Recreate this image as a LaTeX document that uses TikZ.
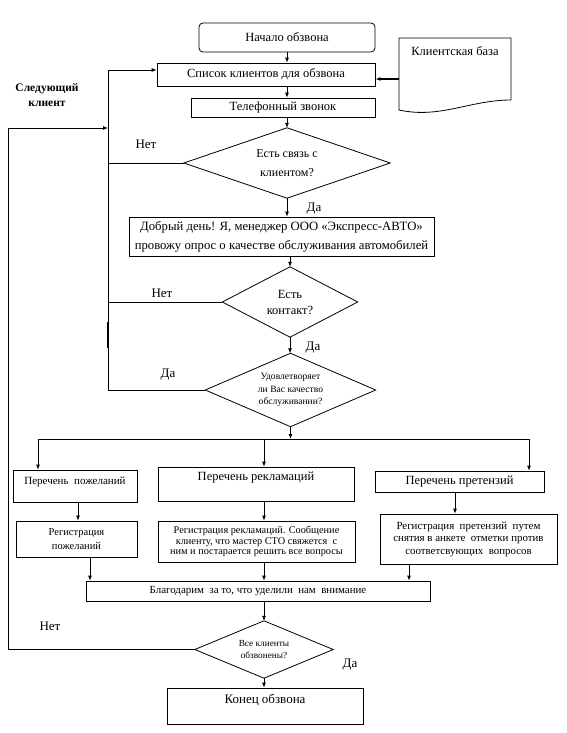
\documentclass[tikz,border=0pt]{standalone}
\usepackage{fontspec}
\setmainfont{Liberation Serif}
\usetikzlibrary{arrows.meta}
\newcommand\myfs[2]{\fontsize{#1}{#2}\selectfont}
\begin{document}
\begin{tikzpicture}[x=1pt,y=-1pt,
  box/.style={draw, line width=0.8pt, inner sep=0pt, align=center, font=\myfs{12.5}{14}},
  txt/.style={inner sep=0pt, align=center, font=\myfs{12.5}{14}},
  arr/.style={-{Latex[length=5pt,width=4pt]}, line width=0.8pt},
  ln/.style={line width=0.8pt},
  lbl/.style={inner sep=0pt, font=\myfs{13}{15}, align=center}]
\useasboundingbox (0,0) rectangle (566,733);
% top boxes
\node[box, rounded corners=4pt, minimum width=176pt, minimum height=29pt] (start) at (287,37.5) {Начало обзвона};
\node[box, minimum width=218pt, minimum height=23pt] (list) at (266,74.5) {Список клиентов для обзвона};
\node[box, minimum width=184pt, minimum height=19pt] (phone) at (283,107.5) {Телефонный звонок};
% client base document
\draw[ln] (399,38) -- (511,38) -- (511,100) .. controls (470,100) and (440,119) .. (399,110) -- cycle;
\node[lbl, font=\myfs{12.5}{14}] (base) at (455,51) {Клиентская база};
\coordinate (baseW) at (399,79);
\draw[arr, line width=1.4pt] (baseW) -- (baseW -| list.east);
% diamond 1
\node[txt, minimum width=206pt, minimum height=70pt, font=\myfs{12}{19}] (d1) at (287,163) {Есть связь с\\клиентом?};
\draw[ln] (d1.north) -- (d1.east) -- (d1.south) -- (d1.west) -- cycle;
% greeting
\node[box, minimum width=305pt, minimum height=39pt, font=\myfs{12.7}{19}] (greet) at (281.5,236.5) {Добрый день! Я, менеджер ООО «Экспресс-АВТО»\\провожу опрос о качестве обслуживания автомобилей};
% diamond 2
\node[txt, minimum width=135pt, minimum height=70pt, font=\myfs{12.5}{16}] (d2) at (290,302) {Есть\\контакт?};
\draw[ln] (d2.north) -- (d2.east) -- (d2.south) -- (d2.west) -- cycle;
% diamond 3
\node[txt, minimum width=170pt, minimum height=73pt, font=\myfs{9.6}{12.5}] (d3) at (290.5,390) {Удовлетворяет\\ли Вас качество\\обслуживании?};
\draw[ln] (d3.north) -- (d3.east) -- (d3.south) -- (d3.west) -- cycle;
% lists
\node[box, minimum width=124pt, minimum height=32pt] (p1) at (75,486) {};
\node[txt, font=\myfs{11}{13}] (p1t) at (75,482) {Перечень\ \ пожеланий};
\node[box, minimum width=196pt, minimum height=34pt] (p2) at (256,484) {};
\node[txt] (p2t) at (256,478) {Перечень рекламаций};
\node[box, minimum width=169pt, minimum height=21pt] (p3) at (459.5,481.5) {Перечень претензий};
% registrations
\node[box, minimum width=121pt, minimum height=36pt, font=\myfs{10.5}{14}] (r1) at (76.5,539) {Регистрация\\пожеланий};
\node[box, minimum width=197pt, minimum height=41pt, font=\myfs{10.3}{10.5}] (r2) at (256.5,541.5) {Регистрация рекламаций. Сообщение\\клиенту, что мастер СТО свяжется\ \ с\\ним и постарается решить все вопросы};
\node[box, minimum width=177pt, minimum height=50pt, font=\myfs{10.9}{12.5}] (r3) at (468.5,539) {Регистрация\ \ претензий\ \ путем\\снятия в анкете\ \ отметки против\\соответсвующих\ \ вопросов};
% thanks
\node[box, minimum width=344pt, minimum height=20pt, font=\myfs{10.9}{13}] (thanks) at (258,591) {Благодарим\ \ за то, что уделили\ \ нам\ \ внимание};
% diamond 4
\node[txt, minimum width=138pt, minimum height=57pt, font=\myfs{9.3}{12}] (d4) at (264,649.5) {Все клиенты\\обзвонены?};
\draw[ln] (d4.north) -- (d4.east) -- (d4.south) -- (d4.west) -- cycle;
% end
\node[box, minimum width=196pt, minimum height=36pt] (endb) at (265,706) {};
\node[txt, font=\myfs{13}{15}] (endt) at (265,700) {Конец обзвона};
% main vertical arrows
\draw[arr] (start.south) -- (start.south |- list.north);
\draw[arr] (start.south |- list.south) -- (start.south |- phone.north);
\draw[arr] (start.south |- phone.south) -- (d1.north);
\draw[arr] (d1.south) -- (d1.south |- greet.north);
\draw[arr] (greet.south -| d2.north) -- (d2.north);
\draw[arr] (d2.south) -- (d2.south |- d3.north);
% bus
\coordinate (busL) at (38,439);
\coordinate (busM) at (264,439);
\coordinate (busR) at (529,439);
\draw[arr] (d3.south) -- (d3.south |- busL);
\draw[ln] (busL) -- (busR);
\draw[arr] (busL) -- (busL |- p1.north);
\draw[arr] (busM) -- (busM |- p2.north);
\draw[arr] (busR) -- (busR |- p3.north);
% to registrations
\coordinate (xa) at (78,0);
\coordinate (xb) at (264,0);
\coordinate (xc) at (455,0);
\coordinate (xd) at (90,0);
\coordinate (xe) at (409,0);
\draw[arr] (p1.south -| xa) -- (r1.north -| xa);
\draw[arr] (p2.south -| xb) -- (r2.north -| xb);
\draw[arr] (p3.south -| xc) -- (r3.north -| xc);
\draw[arr] (r1.south -| xd) -- (thanks.north -| xd);
\draw[arr] (r2.south -| xb) -- (thanks.north -| xb);
\draw[arr] (r3.south -| xe) -- (thanks.north -| xe);
\draw[arr] (thanks.south -| xb) -- (d4.north);
\draw[arr] (d4.south) -- (d4.south |- endb.north);
% loops
\coordinate (inTop) at (108,70);
\coordinate (inBot) at (d3.west -| inTop);
\coordinate (outTop) at (8,128);
\draw[arr] (inBot) -- (inTop) -- (inTop -| list.west);
\draw[arr] (d4.west) -- (d4.west -| outTop) -- (outTop) -- (outTop -| inTop);
\draw[ln] (d1.west) -- (d1.west -| inTop);
\draw[ln] (d2.west) -- (d2.west -| inTop);
\draw[ln] (d3.west) -- (inBot);
\coordinate (thA) at (108,322);
\coordinate (thB) at (108,348);
\draw[line width=1.6pt] (thA) -- (thB);
% labels
\node[lbl, font=\bfseries\myfs{11.5}{15}] (next) at (47,95.5) {Следующий\\клиент};
\node[lbl] (no1) at (146,144) {Нет};
\node[lbl] (yes1) at (314,209) {Да};
\node[lbl] (no2) at (162,293) {Нет};
\node[lbl] (yes2) at (313,348) {Да};
\node[lbl] (yes3) at (168,375) {Да};
\node[lbl] (no4) at (50,626) {Нет};
\node[lbl] (yes4) at (350,665) {Да};
\end{tikzpicture}
\end{document}
